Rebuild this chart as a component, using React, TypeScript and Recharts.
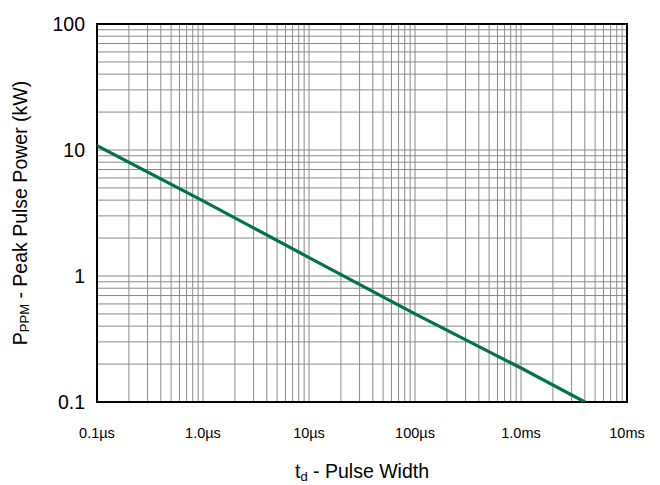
import { LineChart, Line, XAxis, YAxis, CartesianGrid, ReferenceArea, Label } from "recharts";

// Pulse width (µs) vs. peak pulse power (kW)
const pulseWidthUs = [0.1, 1, 10, 100, 1000, 4000];
const peakPowerKw = [10.8, 3.95, 1.4, 0.5, 0.186, 0.1];

// Axis decades and their labels
const xDecades = [0.1, 1, 10, 100, 1000, 10000];
const xDecadeLabels = ["0.1µs", "1.0µs", "10µs", "100µs", "1.0ms", "10ms"];
const yDecades = [0.1, 1, 10, 100];
const yDecadeLabels = ["0.1", "1", "10", "100"];
const gridSteps = [1, 2, 3, 4, 5, 6, 7, 8, 9];

function gridTicks(decades: number[]): number[] {
  const out: number[] = [];
  decades.slice(0, -1).forEach((d) => gridSteps.forEach((m) => out.push(+(d * m).toPrecision(6))));
  out.push(decades[decades.length - 1]);
  return out;
}

function labelFor(v: number, values: number[], labels: string[]): string {
  const i = values.findIndex((t) => Math.abs(v - t) / t < 1e-6);
  return i >= 0 ? labels[i] : "";
}

const data = pulseWidthUs.map((t, i) => ({ t, p: peakPowerKw[i] }));
const xTicks = gridTicks(xDecades);
const yTicks = gridTicks(yDecades);

const FONT = "'Liberation Sans', Arial, sans-serif";

function YTitle(props: any) {
  const vb = props.viewBox || { x: 0, y: 0, width: 97, height: 378 };
  const cx = vb.x + 22;
  const cy = vb.y + vb.height / 2;
  return (
    <text
      x={cx}
      y={cy}
      transform={`rotate(-90 ${cx} ${cy})`}
      textAnchor="middle"
      dominantBaseline="middle"
      fontSize={19.5}
      fontFamily={FONT}
      fill="#000"
    >
      <tspan>P</tspan>
      <tspan fontSize={13} dy={4}>PPM</tspan>
      <tspan dy={-4}> - Peak Pulse Power (kW)</tspan>
    </text>
  );
}

function XTitle(props: any) {
  const vb = props.viewBox || { x: 97, y: 402, width: 530, height: 83 };
  const cx = vb.x + vb.width / 2;
  const y = vb.y + 76;
  return (
    <text x={cx} y={y} textAnchor="middle" fontSize={19.5} fontFamily={FONT} fill="#000">
      <tspan>t</tspan>
      <tspan fontSize={13} dy={3}>d</tspan>
      <tspan dy={-3}> - Pulse Width</tspan>
    </text>
  );
}

export default function App() {
  return (
    <div style={{ position: "absolute", left: 0, top: 0, background: "#fff", fontFamily: FONT }}>
      <LineChart width={660} height={485} data={data} margin={{ top: 24, right: 33, left: 0, bottom: 0 }}>
        <CartesianGrid stroke="#8a8a8a" strokeWidth={1} />
        <XAxis
          dataKey="t"
          type="number"
          scale="log"
          domain={[0.1, 10000]}
          allowDataOverflow
          ticks={xTicks}
          interval={0}
          tickFormatter={(v: number) => labelFor(v, xDecades, xDecadeLabels)}
          tick={{ fontSize: 14.5, fill: "#000", stroke: "none", fontWeight: 400, fontFamily: FONT }}
          tickSize={0}
          tickMargin={26}
          axisLine={false}
          tickLine={false}
          height={83}
        >
          <Label content={XTitle} />
        </XAxis>
        <YAxis
          type="number"
          scale="log"
          domain={[0.1, 100]}
          allowDataOverflow
          ticks={yTicks}
          interval={0}
          tickFormatter={(v: number) => labelFor(v, yDecades, yDecadeLabels)}
          tick={{ fontSize: 19.5, fill: "#000", stroke: "none", fontWeight: 400, fontFamily: FONT }}
          tickSize={0}
          tickMargin={12}
          axisLine={false}
          tickLine={false}
          width={97}
        >
          <Label content={YTitle} />
        </YAxis>
        <ReferenceArea x1={0.1} x2={10000} y1={0.1} y2={100} fill="none" fillOpacity={0} stroke="#000" strokeWidth={2} />
        <Line
          type="linear"
          dataKey="p"
          stroke="#00734a"
          strokeWidth={3.2}
          dot={false}
          isAnimationActive={false}
        />
      </LineChart>
    </div>
  );
}
